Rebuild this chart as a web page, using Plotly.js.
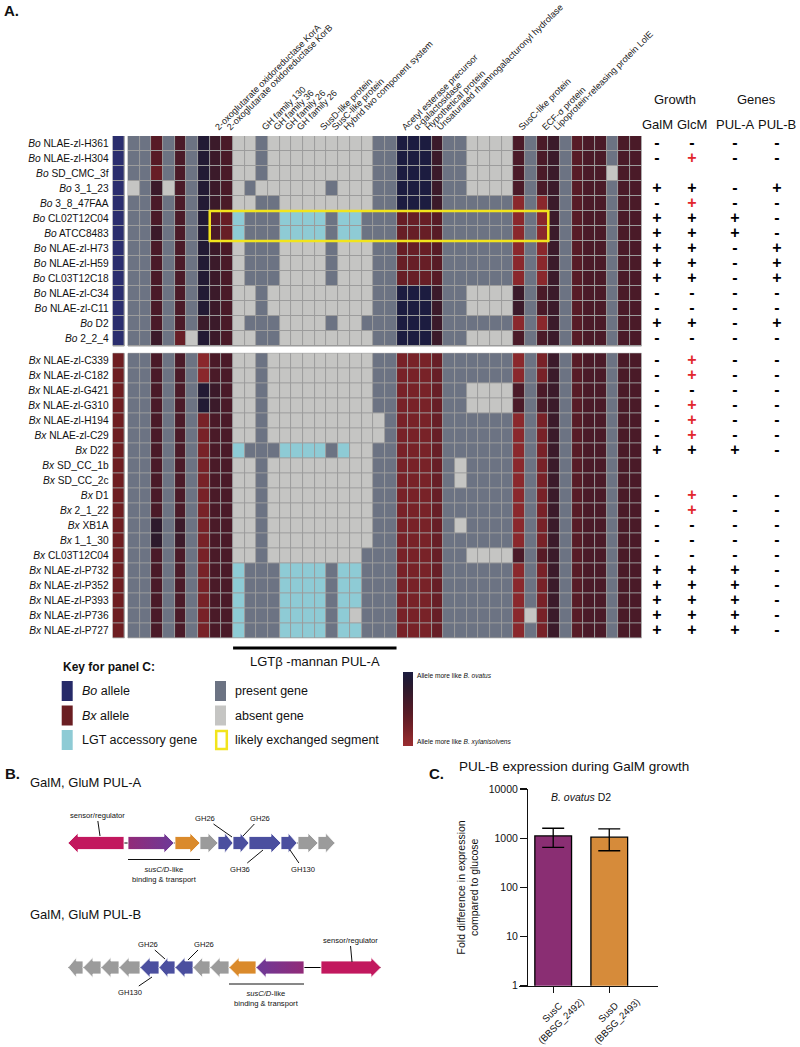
<!DOCTYPE html>
<html><head><meta charset="utf-8">
<script src="https://cdn.plot.ly/plotly-3.0.1.min.js"></script>
<style>html,body{margin:0;padding:0;background:#fff}#chart{width:800px;height:1047px}</style>
</head><body><div id="chart"></div>
<script>
const W = 800, H = 1047;
const FONT = '"Liberation Sans", Arial, Helvetica, sans-serif';
const X = p => p / W, Y = p => 1 - p / H;

// ---------------- Panel A data ----------------
const NCOL = 44;
const boStrains = ['NLAE-zl-H361','NLAE-zl-H304','SD_CMC_3f','3_1_23','3_8_47FAA','CL02T12C04','ATCC8483','NLAE-zl-H73','NLAE-zl-H59','CL03T12C18','NLAE-zl-C34','NLAE-zl-C11','D2','2_2_4'];
const bxStrains = ['NLAE-zl-C339','NLAE-zl-C182','NLAE-zl-G421','NLAE-zl-G310','NLAE-zl-H194','NLAE-zl-C29','D22','SD_CC_1b','SD_CC_2c','D1','2_1_22','XB1A','1_1_30','CL03T12C04','NLAE-zl-P732','NLAE-zl-P352','NLAE-zl-P393','NLAE-zl-P736','NLAE-zl-P727'];
// codes: digit = allele (9 = like B. ovatus ... 0 = like B. xylanisolvens), p = present, a = absent, l = LGT accessory
const boRows = [
  'pp4p5p865 aapaaaaaaaaa pp 9996 pp aaaa 5p56p455p55',
  'pp4p5p865 aapaaaaaaaaa pp 9996 pp aaaa 5p56p455p55',
  'pp3p5p865 aapaaaaaaaaa pp 9996 pp aaaa 5p56p455a55',
  'ap6a5p865 apaaaaaapaaa pp 9996 pp aaaa 5p56p455p55',
  'pp5p5p865 aappaaaaaaaa pp 9996 pp pppp 1p16p455p55',
  'pp5p5p843 lpppllllpllp pp 3334 pp pppp 1p16p455p55',
  'pp6p5p853 lpppllllpllp pp 3334 pp pppp 1p16p455p55',
  'pp5p5p865 apppaaaapaaa pp 3334 pp pppp 1p16p455p55',
  'pp5p5p865 apppaaaapaaa pp 3334 pp pppp 1p16p455p55',
  'pp5p5p865 apppaaaapaaa pp 3334 pp pppp 1p16p455p55',
  'pp5p5p865 aapaaaaaaaaa pp 9996 pp aaaa 6p56p455p55',
  'pp5p5p865 aapaaaaaaaaa pp 9996 pp aaaa 6p56p455p55',
  'pp5p5p665 apppaaaapaap pp 9996 pp pppp 1p16p455p55',
  'pp6p3a865 aappaaaaaaaa pp 9996 pp aaaa 5p56p455p55'
];
const bxRows = [
  'pp5p5p155 aapaaaaaaaaa pp 2223 pp pppp 1p26p455p55',
  'pp5p5p155 aapaaaaaaaaa pp 2223 pp pppp 1p26p455p55',
  'pp5p5p865 aapaaaaaaaaa pp 2223 pp aaaa 5p56p455p55',
  'pp5p5p865 aapaaaaaaaaa pp 2223 pp aaaa 5p56p455p55',
  'pp5p5p255 aapaaaaaaaaa ap 2223 pp pppp 1p26p455p55',
  'pp5p5p255 aapaaaaaaaaa ap 2223 pp pppp 1p26p455p55',
  'pp5p5p255 lpppllllplaa pp 2223 pp pppp 1p26p455p55',
  'pp5p5p255 aapaaaaaaaaa pp 2223 pa pppp 1p26p455p55',
  'pp5p5p255 aapaaaaaaaaa pp 2223 pa pppp 1p26p455p55',
  'pp5p5p255 aapaaaaaaaaa pp 2223 pp pppp 1p26p455p55',
  'pp5p5p255 aapaaaaaaaaa pp 2223 pp pppp 1p26p455p55',
  'pp7p6p255 aapaaaaaaaaa pp 2223 pa pppp 1p26p455p55',
  'pp7p6p255 aapaaaaaaaaa pp 2223 pp pppp 1p26p455p55',
  'pp5p5p255 aapaaaaaaaap pp 2223 pp aaaa 5p46p455p55',
  'pp5p5p255 lpppllllpllp pp 2223 pp pppp 1p26p455p55',
  'pp5p5p255 lpppllllpllp pp 2223 pp pppp 1p26p455p55',
  'pp5p5p255 lpppllllpllp pp 2223 pp pppp 1p26p455p55',
  'pp5p5p255 lpppllllplap pp 2223 pp pppp 1a26p455p55',
  'pp5p5p255 lpppllllpllp pp 2223 pp pppp 1p26p455p55'
];
const geneLabelCols = [7,8,11,12,13,14,16,17,18,23,24,25,26,33,35,36];
const geneLabels = ['2-oxoglutarate oxidoreductase KorA','2-oxoglutarate oxidoreductase KorB','GH family 130','GH family 36','GH family 26','GH family 26','SusD-like protein','SusC-like protein','Hybrid two component system','Acetyl esterase precursor','α-galactosidase','Hypothetical protein','Unsaturated rhamnogalacturonyl hydrolase','SusC-like protein','ECF-σ protein','Lipoprotein-releasing protein LolE'];
const growthCols = ['GalM','GlcM','PUL-A','PUL-B'];
// '+' black plus, 'r' red plus, '-' minus, ' ' no data
const boGrowth = ['----','-r--','    ','++-+','-r--','+++-','+++-','++-+','++-+','++-+','----','----','++-+','----'];
const bxGrowth = ['-r--','-r--','----','-r--','-r--','-r--','+++-','    ','    ','-r--','-r--','----','----','----','+++-','+++-','+++-','+++-','+++-'];
const pulASpan = [9, 22];   // columns under the LGT beta-mannan PUL-A bar
const exchanged = {rows: [5, 6], cols: [7, 35]};

// ---------------- Panel B data ----------------
const pulA = {start:[68,128,175,200,218,233,249,281,298,318], end:[124,174,200,218,233,249,281,297,318,335],
  strand:[-1,1,1,1,1,1,1,1,1,1], kind:['reg','susC','susD','other','GH','GH','GH','GH','other','other']};
const pulB = {start:[68,83,101,119,140,159,175,193,210,229,256,321], end:[83,101,119,140,159,175,193,210,229,256,304,381],
  strand:[-1,-1,-1,-1,-1,-1,-1,-1,-1,-1,-1,1], kind:['other','other','other','other','GH','GH','GH','other','other','susD','susC','reg']};
const pulALabels = {text:['sensor/regulator','GH26','GH26','GH36','GH130'], tx:[97,205,260,240,303], ty:[815,818,818,869,869], px:[100,232,243,263,290], py:[836,837,836,850,850]};
const pulBLabels = {text:['GH26','GH26','GH130','sensor/regulator'], tx:[148,204,130,350], ty:[944,944,992,940], px:[165,188,152,352], py:[959,960,977,962]};

// ---------------- Panel C data ----------------
const cGenes = ['SusC', 'SusD'];
const cLocus = ['(BBSG_2492)', '(BBSG_2493)'];
const cFold = [1110, 1050];
const cErrPlus = [480, 490];
const cErrMinus = [460, 495];
const cColors = ['#8a2e73','#d68b3a'];

// ---------------- styles / layout constants ----------------
const GRID = '#9c9c9c';
const alleleScale = [[0,'#9a2c30'],[0.111,'#8a282c'],[0.222,'#782228'],[0.333,'#671e26'],[0.444,'#571b26'],[0.556,'#4a1a28'],[0.667,'#3b1a2a'],[0.778,'#2d1a2c'],[0.889,'#221a34'],[1,'#1c1c40']];
const catScale = [[0,'#6c7383'],[0.33,'#6c7383'],[0.34,'#c5c5c3'],[0.66,'#c5c5c3'],[0.67,'#8ecbd5'],[1,'#8ecbd5']];
const COL = {reg:'#c2185e', susC:'#7d2e84', susD:'#da8a2b', GH:'#4b4f9f', other:'#9b9b9b'};
const BX_OFF = 14.49;
const SPEC_X = -1.32;
const growthPos = [657, 692, 735, 777];   // table column centres (px)

const cols = Array.from({length: NCOL}, (_, i) => i);
const boY = boStrains.map((_, i) => i);
const bxY = bxStrains.map((_, j) => BX_OFF + j);

function parseRow(s) {
  const t = s.replace(/\s+/g, '');
  const al = [], ca = [];
  for (let c = 0; c < NCOL; c++) {
    const ch = t[c] || 'p';
    if (/[0-9]/.test(ch)) { al.push(+ch); ca.push(null); }
    else { al.push(null); ca.push({p:0, a:1, l:2}[ch]); }
  }
  return {al, ca};
}

const traces = [];
function groupTraces(rows, y, bar) {
  const parsed = rows.map(parseRow);
  traces.push({type:'heatmap', x:cols, y:y, z:parsed.map(r => r.ca), colorscale:catScale, zmin:0, zmax:2,
    xgap:1, ygap:1, showscale:false, hoverinfo:'skip', xaxis:'x', yaxis:'y'});
  const t = {type:'heatmap', x:cols, y:y, z:parsed.map(r => r.al), colorscale:alleleScale, zmin:0, zmax:9,
    xgap:1, ygap:1, showscale:bar, hoverinfo:'skip', xaxis:'x', yaxis:'y'};
  if (bar) t.colorbar = {x:X(403), xanchor:'left', y:Y(709), yanchor:'middle', len:74, lenmode:'pixels',
    thickness:10, thicknessmode:'pixels', outlinewidth:0, showticklabels:false, ticks:'', xpad:0, ypad:0};
  traces.push(t);
}
groupTraces(boRows, boY, true);
groupTraces(bxRows, bxY, false);
// species column
traces.push({type:'heatmap', x0:SPEC_X, dx:1, y:boY, z:boY.map(() => [0]), colorscale:[[0,'#2b2e6e'],[1,'#2b2e6e']],
  xgap:1, ygap:1, showscale:false, hoverinfo:'skip', xaxis:'x', yaxis:'y'});
traces.push({type:'heatmap', x0:SPEC_X, dx:1, y:bxY, z:bxY.map(() => [0]), colorscale:[[0,'#6e1e22'],[1,'#6e1e22']],
  xgap:1, ygap:1, showscale:false, hoverinfo:'skip', xaxis:'x', yaxis:'y'});

// growth table
const gx = [], gy = [], gt = [], gc = [];
function addGrowth(rows, ys) {
  rows.forEach((s, r) => {
    for (let k = 0; k < growthCols.length; k++) {
      const ch = s[k];
      if (!ch || ch === ' ') continue;
      gx.push(growthPos[k]); gy.push(ys[r]);
      gt.push(ch === '-' ? '-' : '+');
      gc.push(ch === 'r' ? '#e2262d' : '#000');
    }
  });
}
addGrowth(boGrowth, boY); addGrowth(bxGrowth, bxY);
traces.push({type:'scatter', mode:'text', x:gx, y:gy, text:gt, textposition:'middle center',
  textfont:{family:FONT, size:16, color:gc, weight:'bold'}, hoverinfo:'skip', xaxis:'x2', yaxis:'y', showlegend:false, cliponaxis:false});

// ---------------- Panel B traces ----------------
function arrowPoly(s, e, dir, yc) {
  const len = e - s, hl = Math.min(10, len * 0.55), h = 6.5, hh = 10;
  let xs;
  if (dir > 0) xs = [s, e - hl, e - hl, e, e - hl, e - hl, s, s];
  else xs = [e, s + hl, s + hl, s, s + hl, s + hl, e, e];
  const ys = [yc - h, yc - h, yc - hh, yc, yc + hh, yc + h, yc + h, yc - h];
  return {xs, ys};
}
function pulTraces(pul, yc) {
  const lo = Math.min(...pul.start), hi = Math.max(...pul.end);
  traces.push({type:'scatter', mode:'lines', x:[lo, hi], y:[yc, yc], line:{color:'#000', width:1},
    xaxis:'x3', yaxis:'y3', hoverinfo:'skip', showlegend:false});
  pul.start.forEach((s, i) => {
    const p = arrowPoly(s, pul.end[i], pul.strand[i], yc);
    const tr = {type:'scatter', mode:'lines', x:p.xs, y:p.ys, fill:'toself', fillcolor:COL[pul.kind[i]],
      line:{color:'#ffffff', width:0.8}, xaxis:'x3', yaxis:'y3', hoverinfo:'skip', showlegend:false};
    if (pul.kind[i] === 'susC') {
      tr.fillgradient = {type:'horizontal', colorscale: pul.strand[i] > 0 ? [[0,'#922a78'],[1,'#6c3a98']] : [[0,'#6c3a98'],[1,'#922a78']]};
    }
    traces.push(tr);
  });
}
pulTraces(pulA, 843);
pulTraces(pulB, 967.5);

// ---------------- Panel C traces ----------------
traces.push({type:'bar', x:[0, 1], y:cFold, marker:{color:cColors, line:{color:'#000', width:1.3}}, width:0.655,
  error_y:{type:'data', array:cErrPlus, arrayminus:cErrMinus, symmetric:false, color:'#000', thickness:1.3, width:11},
  xaxis:'x4', yaxis:'y4', hoverinfo:'skip', showlegend:false});

// ---------------- layout ----------------
const ann = [];
const shapes = [];
function txt(x, y, text, size, opt) {
  ann.push(Object.assign({x:X(x), y:Y(y), xref:'paper', yref:'paper', text:text, showarrow:false,
    font:{family:FONT, size:size, color:'#111'}, xanchor:'left', yanchor:'middle'}, opt || {}));
}
txt(2, 10, '<b>A.</b>', 15);
txt((growthPos[0] + growthPos[1]) / 2, 99, 'Growth', 13, {xanchor:'center'});
txt((growthPos[2] + growthPos[3]) / 2, 99, 'Genes', 13, {xanchor:'center'});
growthCols.forEach((g, k) => ann.push({x:growthPos[k], xref:'x2', y:Y(124), yref:'paper', text:g, showarrow:false,
  font:{family:FONT, size:13, color:'#111'}, xanchor:'center', yanchor:'middle'}));
// PUL-A bar below heatmap
shapes.push({type:'line', xref:'x', yref:'paper', x0:pulASpan[0] - 0.5, x1:pulASpan[1] + 0.5, y0:Y(648), y1:Y(648), line:{color:'#000', width:3}});
ann.push({x:(pulASpan[0] + pulASpan[1]) / 2, xref:'x', y:Y(661), yref:'paper', text:'LGTβ -mannan PUL-A', showarrow:false,
  font:{family:FONT, size:13, color:'#111'}, xanchor:'center', yanchor:'middle'});
// grid underlays
shapes.push({type:'rect', xref:'x', yref:'y', layer:'below', x0:-0.5, x1:NCOL - 0.5, y0:-0.5, y1:boStrains.length - 0.5, fillcolor:GRID, line:{color:GRID, width:1}});
shapes.push({type:'rect', xref:'x', yref:'y', layer:'below', x0:-0.5, x1:NCOL - 0.5, y0:BX_OFF - 0.5, y1:BX_OFF + bxStrains.length - 0.5, fillcolor:GRID, line:{color:GRID, width:1}});
shapes.push({type:'rect', xref:'x', yref:'y', layer:'below', x0:SPEC_X - 0.5, x1:SPEC_X + 0.5, y0:-0.5, y1:boStrains.length - 0.5, fillcolor:GRID, line:{color:GRID, width:1}});
shapes.push({type:'rect', xref:'x', yref:'y', layer:'below', x0:SPEC_X - 0.5, x1:SPEC_X + 0.5, y0:BX_OFF - 0.5, y1:BX_OFF + bxStrains.length - 0.5, fillcolor:GRID, line:{color:GRID, width:1}});
// exchanged segment box
shapes.push({type:'rect', xref:'x', yref:'y', x0:exchanged.cols[0] - 0.5, x1:exchanged.cols[1] + 0.5, y0:exchanged.rows[0] - 0.5, y1:exchanged.rows[1] + 0.5, line:{color:'#f2e41c', width:2.5}});

// key
txt(61, 667, '<b>Key for panel C:</b>', 12);
const keyItems = [
  {x:61.7, y:691, c:'#262a68', t:'<i>Bo</i> allele'},
  {x:61.7, y:715.5, c:'#6a1e22', t:'<i>Bx</i> allele'},
  {x:61.7, y:740, c:'#8ecbd5', t:'LGT accessory gene'},
  {x:215, y:691, c:'#6c7383', t:'present gene'},
  {x:215, y:715.5, c:'#c5c5c3', t:'absent gene'},
  {x:215, y:740, c:null, t:'likely exchanged segment'}
];
keyItems.forEach(k => {
  if (k.c) shapes.push({type:'rect', xref:'paper', yref:'paper', x0:X(k.x), x1:X(k.x + 11), y0:Y(k.y + 10), y1:Y(k.y - 10), fillcolor:k.c, line:{width:0}});
  else shapes.push({type:'rect', xref:'paper', yref:'paper', x0:X(k.x + 1.2), x1:X(k.x + 11.8), y0:Y(k.y + 9), y1:Y(k.y - 9), line:{color:'#f2e41c', width:2.5}});
  txt(k.x + 18, k.y, k.t, 12.5);
});
// colorbar labels
txt(415, 675, 'Allele more like <i>B. ovatus</i>', 6.6);
txt(415, 742, 'Allele more like <i>B. xylanisolvens</i>', 6.6);

// panel B texts
txt(3, 773, '<b>B.</b>', 15);
txt(28, 782, 'GalM, GluM PUL-A', 13);
txt(28, 914, 'GalM, GluM PUL-B', 13);
function pulLabels(L) {
  L.text.forEach((t, i) => ann.push({x:L.px[i], y:L.py[i], xref:'x3', yref:'y3', ax:L.tx[i], ay:L.ty[i], axref:'x3', ayref:'y3',
    text:t, showarrow:true, arrowhead:0, arrowwidth:1, arrowcolor:'#111', standoff:0, startstandoff:0,
    font:{family:FONT, size:7.6, color:'#111'}}));
}
pulLabels(pulALabels); pulLabels(pulBLabels);
function susBar(pul, yc) {
  const idx = pul.kind.map((k, i) => (k === 'susC' || k === 'susD') ? i : -1).filter(i => i >= 0);
  const lo = Math.min(...idx.map(i => pul.start[i])), hi = Math.max(...idx.map(i => pul.end[i]));
  shapes.push({type:'line', xref:'x3', yref:'y3', x0:lo, x1:hi, y0:yc + 16.5, y1:yc + 16.5, line:{color:'#111', width:1}});
  ann.push({x:(lo + hi) / 2, y:yc + 31, xref:'x3', yref:'y3', text:'<i>susC/D</i>-like<br>binding &amp; transport', showarrow:false,
    font:{family:FONT, size:7.6, color:'#111'}, xanchor:'center', yanchor:'middle'});
}
susBar(pulA, 843); susBar(pulB, 967.5);

// panel C texts
txt(427, 773, '<b>C.</b>', 15);
txt(457, 766, 'PUL-B expression during GalM growth', 13.5);
ann.push({x:0.5, y:Y(797), xref:'x4', yref:'paper', text:'<i>B. ovatus</i> D2', showarrow:false,
  font:{family:FONT, size:10.5, color:'#111'}, xanchor:'center', yanchor:'middle'});
cGenes.forEach((g, i) => ann.push({x:i + 0.05, y:Y(1016), xref:'x4', yref:'paper', text:g + '<br>' + cLocus[i], textangle:-45,
  showarrow:false, align:'center', xanchor:'center', yanchor:'middle', font:{family:FONT, size:9.6, color:'#111'}}));

const layout = {
  width:W, height:H, margin:{l:0, r:0, t:0, b:0}, paper_bgcolor:'#fff', plot_bgcolor:'rgba(0,0,0,0)',
  showlegend:false, font:{family:FONT, color:'#111'},
  xaxis:{domain:[X(112.6), X(641.7)], range:[SPEC_X - 0.5, NCOL - 0.5], side:'top', tickmode:'array', tickvals:geneLabelCols, ticktext:geneLabels,
    tickangle:-45, tickfont:{family:FONT, size:9.1, color:'#222'}, ticks:'', showgrid:false, zeroline:false, showline:false, anchor:'y', ticklabelstandoff:1},
  yaxis:{domain:[Y(638.35), Y(136)], range:[BX_OFF + bxStrains.length - 0.5, -0.5], tickmode:'array',
    tickvals:boY.concat(bxY), ticktext:boStrains.map(s => '<i>Bo</i> ' + s).concat(bxStrains.map(s => '<i>Bx</i> ' + s)),
    tickfont:{family:FONT, size:10.2, color:'#111'}, ticks:'', showgrid:false, zeroline:false, showline:false, ticklabelstandoff:3, anchor:'x'},
  xaxis2:{domain:[X(642.5), 1], range:[642.5, 800], visible:false, anchor:'y'},
  xaxis3:{domain:[0, 0.5], range:[0, 400], visible:false, anchor:'y3'},
  yaxis3:{domain:[0, Y(760)], range:[1047, 760], visible:false, anchor:'x3'},
  xaxis4:{domain:[X(519), X(657.7)], range:[-0.61, 1.864], anchor:'y4', showline:true, linecolor:'#111', linewidth:1.3,
    ticks:'outside', ticklen:6, tickwidth:1.3, tickcolor:'#111', tickmode:'array', tickvals:[0, 1], showticklabels:false,
    showgrid:false, zeroline:false},
  yaxis4:{domain:[Y(985.7), Y(789)], type:'log', range:[0, 4], anchor:'free', position:X(527), showline:true, linecolor:'#111', linewidth:1.3,
    ticks:'outside', ticklen:7, tickwidth:1.3, tickcolor:'#111', tickmode:'array', tickvals:[1,10,100,1000,10000], ticktext:['1','10','100','1000','10000'],
    tickfont:{family:FONT, size:10.5, color:'#111'}, showgrid:false, zeroline:false,
    title:{text:'Fold difference in expression<br>compared to glucose', font:{family:FONT, size:10.5, color:'#111'}, standoff:6}},
  annotations:ann, shapes:shapes
};
Plotly.newPlot('chart', traces, layout, {staticPlot:true, displayModeBar:false});
</script></body></html>
